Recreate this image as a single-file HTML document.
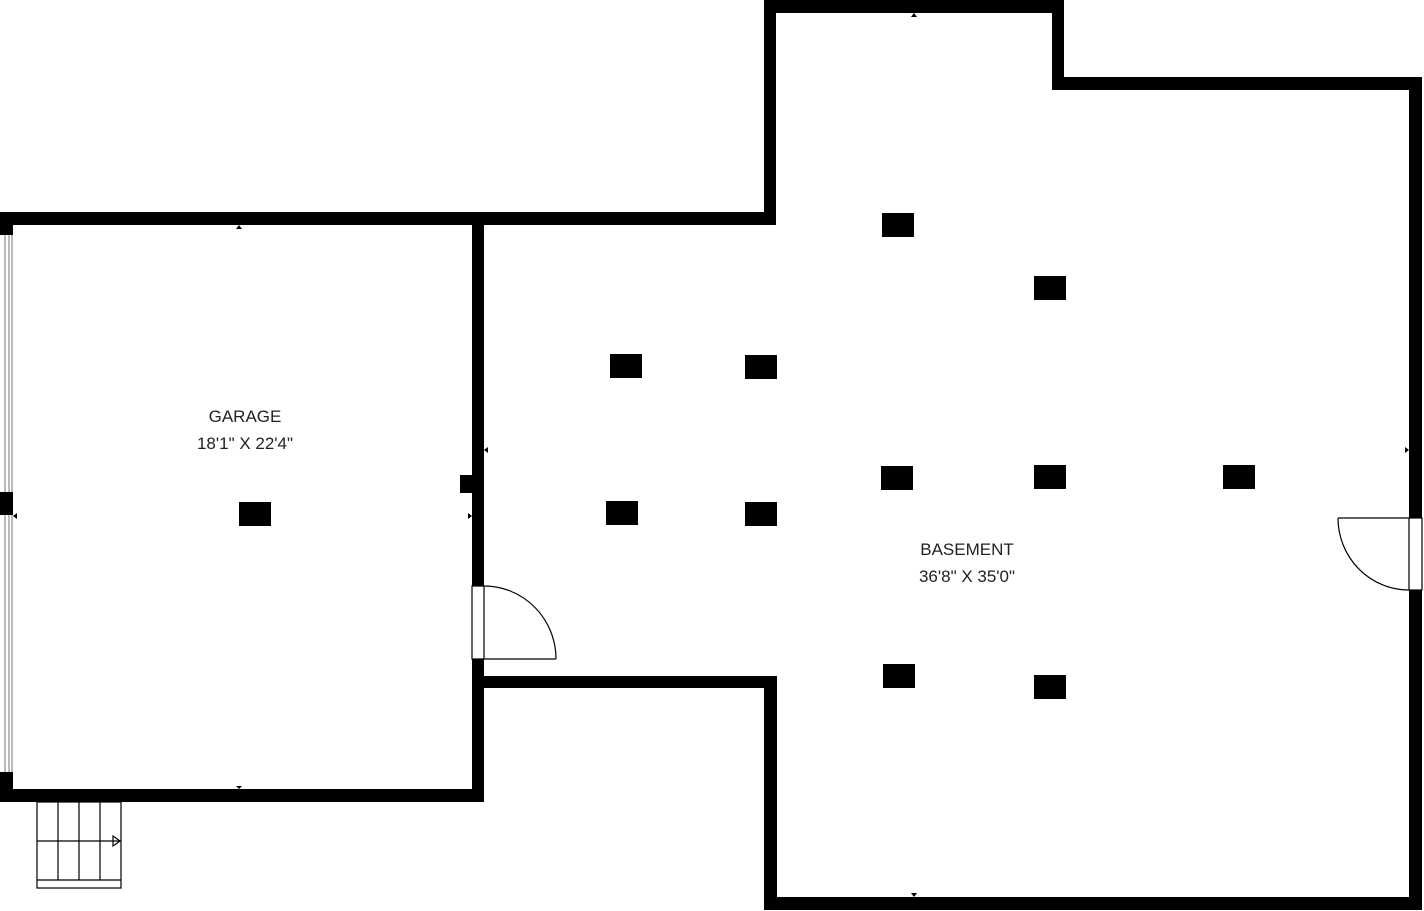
<!DOCTYPE html>
<html><head><style>body{margin:0;background:#fff}svg{display:block}</style></head><body>
<svg width="1424" height="911" viewBox="0 0 1424 911" xmlns="http://www.w3.org/2000/svg" font-family="Liberation Sans, sans-serif">
<rect width="1424" height="911" fill="#fff"/>
<g fill="#000">
<!-- garage -->
<rect x="0" y="212" width="484" height="13"/>
<rect x="0" y="789" width="484" height="13"/>
<rect x="0" y="212" width="13" height="23"/>
<rect x="0" y="492" width="13" height="23"/>
<rect x="0" y="772" width="13" height="30"/>
<rect x="472" y="212" width="12" height="374"/>
<rect x="472" y="659" width="12" height="143"/>
<rect x="460" y="475" width="12" height="18"/>
<!-- basement -->
<rect x="484" y="212" width="292" height="13"/>
<rect x="764" y="0" width="12" height="225"/>
<rect x="764" y="0" width="300" height="13"/>
<rect x="1052" y="0" width="12" height="90"/>
<rect x="1052" y="77" width="370" height="13"/>
<rect x="1409" y="77" width="13" height="441"/>
<rect x="1409" y="590" width="13" height="320"/>
<rect x="764" y="897" width="658" height="13"/>
<rect x="764" y="676" width="13" height="234"/>
<rect x="484" y="676" width="293" height="12"/>
<!-- posts -->
<rect x="882" y="213" width="32" height="24"/>
<rect x="1034" y="276" width="32" height="24"/>
<rect x="610" y="354" width="32" height="24"/>
<rect x="745" y="355" width="32" height="24"/>
<rect x="881" y="466" width="32" height="24"/>
<rect x="1034" y="465" width="32" height="24"/>
<rect x="1223" y="465" width="32" height="24"/>
<rect x="606" y="501" width="32" height="24"/>
<rect x="745" y="502" width="32" height="24"/>
<rect x="883" y="664" width="32" height="24"/>
<rect x="1034" y="675" width="32" height="24"/>
<rect x="239" y="502" width="32" height="24"/>
</g>
<!-- windows -->
<g stroke="#777" stroke-width="1">
<line x1="5" y1="235" x2="5" y2="492"/><line x1="9" y1="235" x2="9" y2="492"/><line x1="12" y1="235" x2="12" y2="492"/>
<line x1="5" y1="515" x2="5" y2="772"/><line x1="9" y1="515" x2="9" y2="772"/><line x1="12" y1="515" x2="12" y2="772"/>
</g>
<!-- doors -->
<g fill="none" stroke="#000" stroke-width="1.2">
<rect x="472" y="586" width="12" height="73"/>
<line x1="484" y1="659" x2="556" y2="659"/>
<path d="M484 586 A72 73 0 0 1 556 659"/>
<rect x="1409" y="518" width="13" height="72"/>
<line x1="1338" y1="518" x2="1409" y2="518"/>
<path d="M1338 518 A71 72 0 0 0 1409 590"/>
<!-- stairs -->
<rect x="37" y="802" width="84" height="86"/>
<line x1="58" y1="802" x2="58" y2="880"/><line x1="79" y1="802" x2="79" y2="880"/><line x1="100" y1="802" x2="100" y2="880"/>
<line x1="37" y1="841" x2="121" y2="841"/><line x1="37" y1="880" x2="121" y2="880"/>
<path d="M113 836 L120 841 L113 846 Z"/>
</g>
<!-- small markers -->
<g fill="#000">
<path d="M236 229 L239 225 L242 229Z"/><path d="M236 786 L239 789 L242 786Z"/>
<path d="M911 17 L914 13 L917 17Z"/><path d="M911 893 L914 897 L917 893Z"/>
<path d="M17 513 L13 516 L17 519Z"/><path d="M468 513 L472 516 L468 519Z"/>
<path d="M488 447 L484 450 L488 453Z"/><path d="M1405 447 L1409 450 L1405 453Z"/>
</g>
<g font-size="17" fill="#222" text-anchor="middle">
<text x="245" y="422">GARAGE</text>
<text x="245" y="449">18'1" X 22'4"</text>
<text x="967" y="555">BASEMENT</text>
<text x="967" y="582">36'8" X 35'0"</text>
</g>
</svg>
</body></html>
